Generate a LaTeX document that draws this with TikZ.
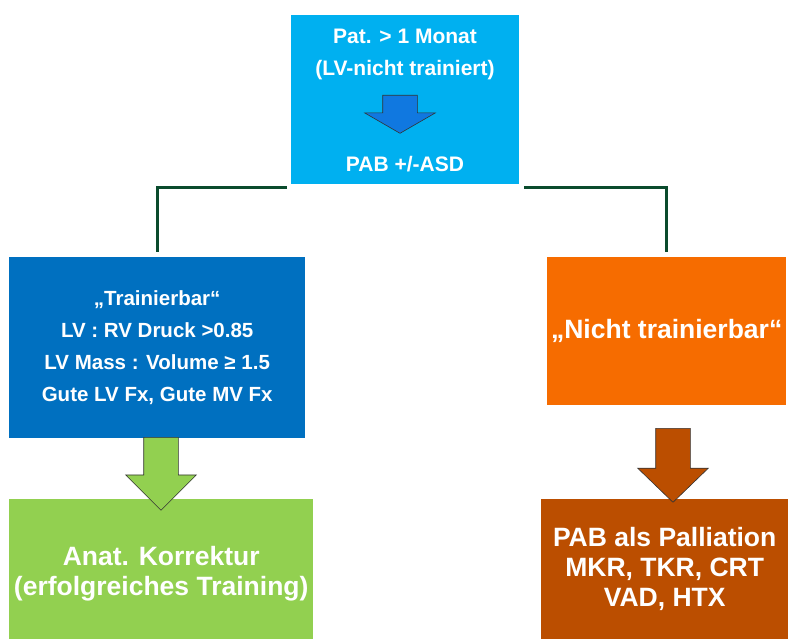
\documentclass[tikz,border=0pt]{standalone}
\usepackage{fontspec}
\setmainfont{Liberation Sans}
\usetikzlibrary{shapes,arrows,positioning,calc}
\definecolor{skyblue}{RGB}{0,176,240}
\definecolor{arrowblue}{RGB}{16,120,224}
\definecolor{trainblue}{RGB}{0,112,192}
\definecolor{notorange}{RGB}{246,108,0}
\definecolor{fixgreen}{RGB}{146,208,80}
\definecolor{palbrown}{RGB}{187,78,0}
\definecolor{linkgreen}{RGB}{10,75,45}
\tikzset{
    % Define box and arrow styles
    flowbox/.style={
        rectangle, draw=none, inner sep=0pt, anchor=north west,
        text=white, align=center
    },
    bodytext/.style={
        text=white, align=center, inner sep=0pt
    },
    blockarrow/.style={
        single arrow, draw=black!80, line width=0.6pt,
        inner xsep=17pt, inner ysep=0pt,
        shape border rotate=270, single arrow head extend=18pt,
        minimum width=70pt, anchor=tail
    },
    link/.style={
        draw=linkgreen, line width=3pt
    }
}

\begin{document}
\begin{tikzpicture}[x=1pt, y=-1pt]
\useasboundingbox (0,0) rectangle (788,639);

\node[flowbox, fill=skyblue, minimum width=228pt, minimum height=169pt] (start) at (291,15) {};
\node[bodytext, font=\fontsize{21}{32}\selectfont\bfseries] (patient) at (405,54) {Pat. > 1 Monat\\(LV-nicht trainiert)};
\node[bodytext, font=\fontsize{21}{32}\selectfont\bfseries] (band) at (405,164) {PAB +/-ASD};

\node[flowbox, fill=trainblue, minimum width=296pt, minimum height=181pt,
      font=\fontsize{20.5}{32}\selectfont\bfseries] (train) at (9,257)
      {„Trainierbar“\\LV : RV Druck >0.85\\LV Mass : Volume ≥ 1.5\\Gute LV Fx, Gute MV Fx};
\node[flowbox, fill=notorange, minimum width=239pt, minimum height=148pt,
      font=\fontsize{26.5}{30}\selectfont\bfseries] (notrain) at (547,257)
      {„Nicht trainierbar“};
\node[flowbox, fill=fixgreen, minimum width=304pt, minimum height=150pt,
      font=\fontsize{26.5}{30}\selectfont\bfseries] (repair) at (9,499)
      {Anat. Korrektur\\(erfolgreiches Training)};
\node[flowbox, fill=palbrown, minimum width=247pt, minimum height=140pt,
      font=\fontsize{26.5}{30}\selectfont\bfseries] (palliation) at (541,499)
      {PAB als Palliation\\MKR, TKR, CRT\\VAD, HTX};

\node[blockarrow, fill=arrowblue, minimum height=38pt, single arrow tip angle=120] (arrband) at (400,95) {};
\node[blockarrow, fill=fixgreen, minimum height=73pt, single arrow tip angle=90] (arrrepair) at (161,437) {};
\node[blockarrow, fill=palbrown, minimum height=74pt, single arrow tip angle=92] (arrpall) at (673,428) {};

\draw[link] ([xshift=-4pt,yshift=-3pt]start.south west) -| ([yshift=5pt]train.north);
\draw[link] ([xshift=5pt,yshift=-3pt]start.south east) -| ([yshift=5pt]notrain.north);

\end{tikzpicture}
\end{document}
